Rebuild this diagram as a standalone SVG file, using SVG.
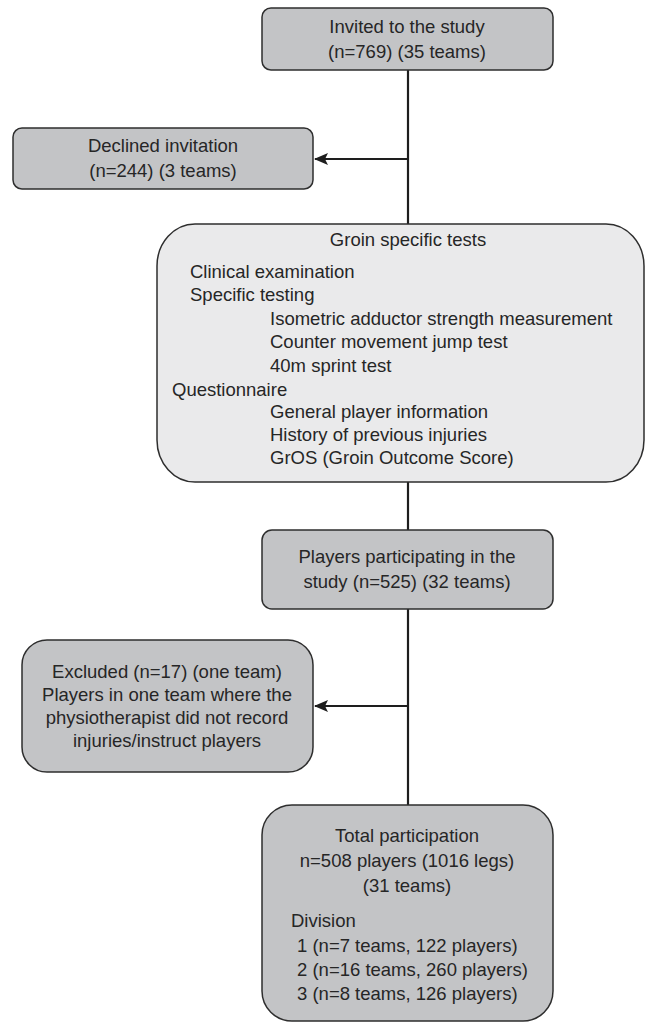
<svg xmlns="http://www.w3.org/2000/svg" width="645" height="1022" viewBox="0 0 645 1022">
<style>
text{font-family:"Liberation Sans",Arial,sans-serif;font-size:18.5px;fill:#262626}
.c{text-anchor:middle}
.dk{fill:#c3c4c6;stroke:#2e2e2e;stroke-width:1.5}
.lt{fill:#eaeaeb;stroke:#2e2e2e;stroke-width:1.5}
.ln{stroke:#1e1e1e;stroke-width:2.2;fill:none}
</style>
<defs>
<marker id="ah" viewBox="0 0 14 12" markerWidth="14" markerHeight="12" refX="13" refY="6" orient="auto" markerUnits="userSpaceOnUse">
<path d="M0,0 L14,6 L0,12 L3,6 Z" fill="#1e1e1e"/>
</marker>
</defs>
<rect width="645" height="1022" fill="#fff"/>
<g id="connectors">
<line class="ln" x1="408" y1="70" x2="408" y2="224"/>
<line class="ln" x1="408" y1="159" x2="315" y2="159" marker-end="url(#ah)"/>
<line class="ln" x1="408" y1="482" x2="408" y2="530"/>
<line class="ln" x1="408" y1="609" x2="408" y2="805"/>
<line class="ln" x1="408" y1="706" x2="315" y2="706" marker-end="url(#ah)"/>
</g>
<g id="invited">
<rect class="dk" x="262" y="8" width="291" height="62" rx="9"/>
<text class="c" x="407" y="33">Invited to the study</text>
<text class="c" x="407" y="58">(n=769) (35 teams)</text>
</g>
<g id="declined">
<rect class="dk" x="13" y="128" width="300" height="61" rx="9"/>
<text class="c" x="163" y="152">Declined invitation</text>
<text class="c" x="163" y="177">(n=244) (3 teams)</text>
</g>
<g id="groin">
<rect class="lt" x="157" y="224" width="487" height="258" rx="38" ry="42"/>
<text class="c" x="408" y="246">Groin specific tests</text>
<text x="190" y="278">Clinical examination</text>
<text x="190" y="301">Specific testing</text>
<text x="270" y="325">Isometric adductor strength measurement</text>
<text x="270" y="348">Counter movement jump test</text>
<text x="270" y="372">40m sprint test</text>
<text x="172" y="396">Questionnaire</text>
<text x="270" y="418">General player information</text>
<text x="270" y="441">History of previous injuries</text>
<text x="270" y="464">GrOS (Groin Outcome Score)</text>
</g>
<g id="players">
<rect class="dk" x="262" y="530" width="291" height="79" rx="10"/>
<text class="c" x="407" y="563">Players participating in the</text>
<text class="c" x="407" y="588">study (n=525) (32 teams)</text>
</g>
<g id="excluded">
<rect class="dk" x="22" y="640" width="291" height="132" rx="25"/>
<text class="c" x="167" y="678">Excluded (n=17) (one team)</text>
<text class="c" x="167" y="701">Players in one team where the</text>
<text class="c" x="167" y="724">physiotherapist did not record</text>
<text class="c" x="167" y="747">injuries/instruct players</text>
</g>
<g id="total">
<rect class="dk" x="262" y="805" width="291" height="216" rx="30"/>
<text class="c" x="407" y="842">Total participation</text>
<text class="c" x="407" y="867">n=508 players (1016 legs)</text>
<text class="c" x="407" y="892">(31 teams)</text>
<text x="291" y="927">Division</text>
<text x="297" y="952">1 (n=7 teams, 122 players)</text>
<text x="297" y="976">2 (n=16 teams, 260 players)</text>
<text x="297" y="1000">3 (n=8 teams, 126 players)</text>
</g>
</svg>
